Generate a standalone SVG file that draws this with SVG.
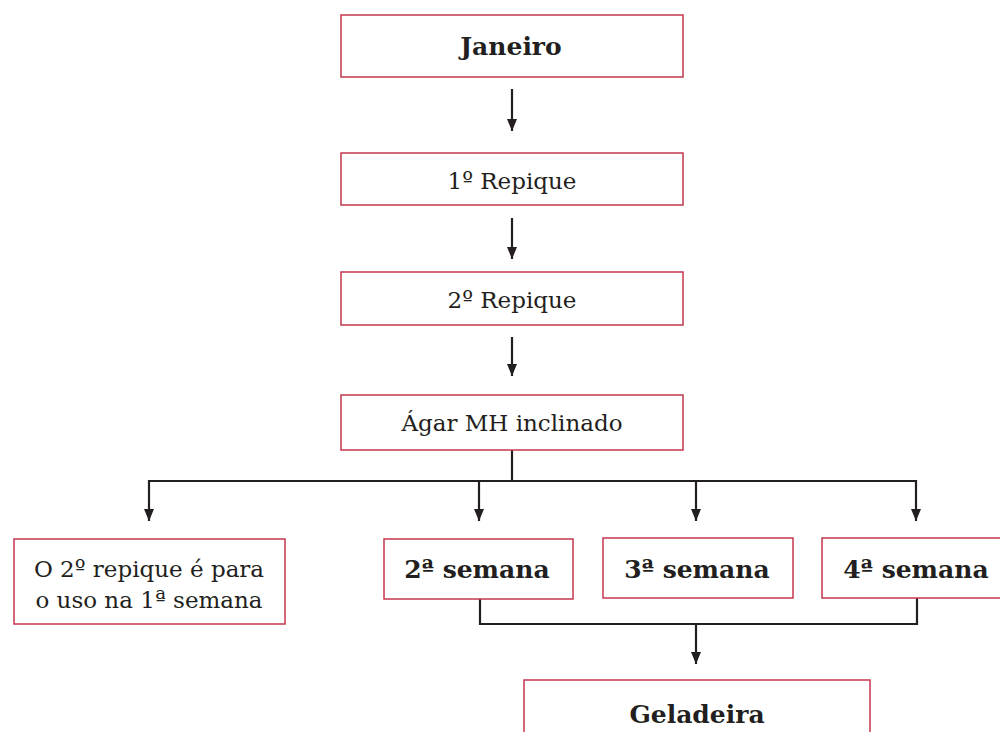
<svg xmlns="http://www.w3.org/2000/svg" width="1000" height="732" viewBox="0 0 1000 732">
<defs>
<marker id="ah" viewBox="0 0 12 10" refX="12" refY="5" markerWidth="12" markerHeight="10" markerUnits="userSpaceOnUse" orient="auto">
<path d="M0,0 L12,5 L0,10 Z" fill="#231f20"/>
</marker>
<style>
.box{fill:#fff;stroke:#c4374f;stroke-width:1.5}
.t{font-family:"DejaVu Serif","Liberation Serif",serif;font-size:23px;fill:#231f20;text-anchor:middle}
.b{font-weight:bold;font-size:25px}
.c{fill:none;stroke:#231f20;stroke-width:2.2}
</style>
</defs>
<rect width="1000" height="732" fill="#fff"/>
<g id="connectors">
<line class="c" x1="512" y1="89" x2="512" y2="131" marker-end="url(#ah)"/>
<line class="c" x1="512" y1="218" x2="512" y2="259" marker-end="url(#ah)"/>
<line class="c" x1="512" y1="337" x2="512" y2="376" marker-end="url(#ah)"/>
<line class="c" x1="512" y1="450" x2="512" y2="481"/>
<line class="c" x1="148" y1="481" x2="917" y2="481"/>
<line class="c" x1="149" y1="480" x2="149" y2="521" marker-end="url(#ah)"/>
<line class="c" x1="479" y1="480" x2="479" y2="521" marker-end="url(#ah)"/>
<line class="c" x1="696" y1="480" x2="696" y2="521" marker-end="url(#ah)"/>
<line class="c" x1="916" y1="480" x2="916" y2="521" marker-end="url(#ah)"/>
<polyline class="c" points="480,599 480,624 917,624 917,598"/>
<line class="c" x1="696" y1="624" x2="696" y2="664" marker-end="url(#ah)"/>
</g>
<g id="janeiro"><rect class="box" x="341" y="15" width="342" height="62"/><text class="t b" x="511" y="55">Janeiro</text></g>
<g id="repique1"><rect class="box" x="341" y="153" width="342" height="52"/><text class="t" x="512" y="189">1º Repique</text></g>
<g id="repique2"><rect class="box" x="341" y="272" width="342" height="53"/><text class="t" x="512" y="308">2º Repique</text></g>
<g id="agar"><rect class="box" x="341" y="395" width="342" height="55"/><text class="t" x="512" y="431">Ágar MH inclinado</text></g>
<g id="uso"><rect class="box" x="14" y="539" width="271" height="85"/><text class="t" x="149" y="577">O 2º repique é para</text><text class="t" x="149" y="608">o uso na 1ª semana</text></g>
<g id="semana2"><rect class="box" x="384" y="539" width="189" height="60"/><text class="t b" x="477" y="578">2ª semana</text></g>
<g id="semana3"><rect class="box" x="603" y="538" width="190" height="60"/><text class="t b" x="697" y="578">3ª semana</text></g>
<g id="semana4"><rect class="box" x="822" y="538" width="180" height="60"/><text class="t b" x="916" y="578">4ª semana</text></g>
<g id="geladeira"><rect class="box" x="524" y="680" width="346" height="70"/><text class="t b" x="697" y="723">Geladeira</text></g>
</svg>
